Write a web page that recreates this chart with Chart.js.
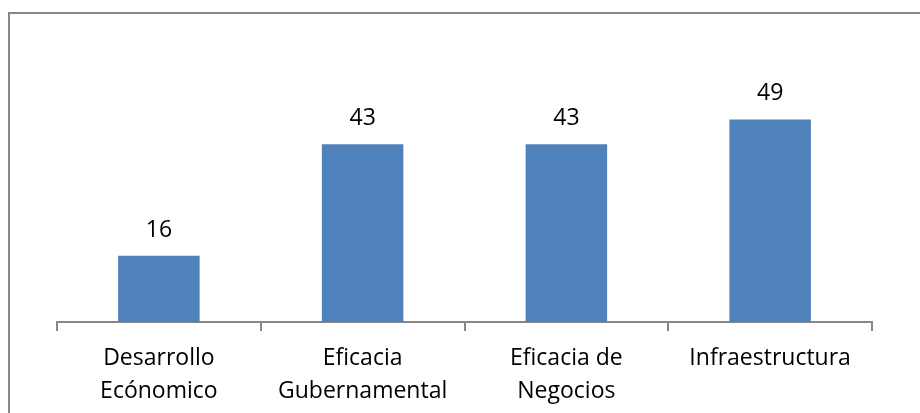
<!DOCTYPE html>
<html>
<head>
<meta charset="utf-8">
<script src="https://cdn.jsdelivr.net/npm/chart.js@4"></script>
<style>
  html, body { margin: 0; padding: 0; background: #fff; }
  #wrap { width: 920px; height: 413px; }
</style>
</head>
<body>
<div id="wrap"><canvas id="mainChart" width="920" height="413"></canvas></div>
<script>
const categories = [['Desarrollo', 'Ecónomico'], ['Eficacia', 'Gubernamental'], ['Eficacia de', 'Negocios'], 'Infraestructura'];
const values = [16, 43, 43, 49];

const FONT = '"Open Sans", Lato, sans-serif';

// outer frame + value labels
const extras = {
  id: 'extras',
  beforeDraw(chart) {
    const c = chart.ctx;
    c.save();
    c.strokeStyle = '#878787';
    c.lineWidth = 2;
    c.strokeRect(9, 13, 940, 440);
    c.restore();
  },
  afterDatasetsDraw(chart) {
    const c = chart.ctx;
    const meta = chart.getDatasetMeta(0);
    c.save();
    c.font = '23px ' + FONT;
    c.fillStyle = '#000';
    c.textAlign = 'center';
    c.textBaseline = 'alphabetic';
    meta.data.forEach((bar, i) => {
      c.fillText(values[i], bar.x, bar.y - 19);
    });
    c.restore();
  }
};

new Chart(document.getElementById('mainChart'), {
  type: 'bar',
  data: {
    labels: categories,
    datasets: [{
      data: values,
      backgroundColor: '#4f81bd',
      categoryPercentage: 1,
      barPercentage: 0.4
    }]
  },
  options: {
    responsive: false,
    animation: false,
    layout: { padding: { left: 57, right: 48, top: 74, bottom: 0 } },
    plugins: { legend: { display: false }, tooltip: { enabled: false } },
    scales: {
      y: { display: false, min: 0, max: 60 },
      x: {
        afterFit(scale) { scale.height = 91; },
        border: { color: '#878787', width: 2 },
        grid: { drawOnChartArea: false, color: '#878787', lineWidth: 2, tickLength: 9 },
        ticks: {
          color: '#000',
          padding: 11,
          maxRotation: 0,
          font: { family: FONT, size: 23, lineHeight: 1.43 }
        }
      }
    }
  },
  plugins: [extras]
});
</script>
</body>
</html>
